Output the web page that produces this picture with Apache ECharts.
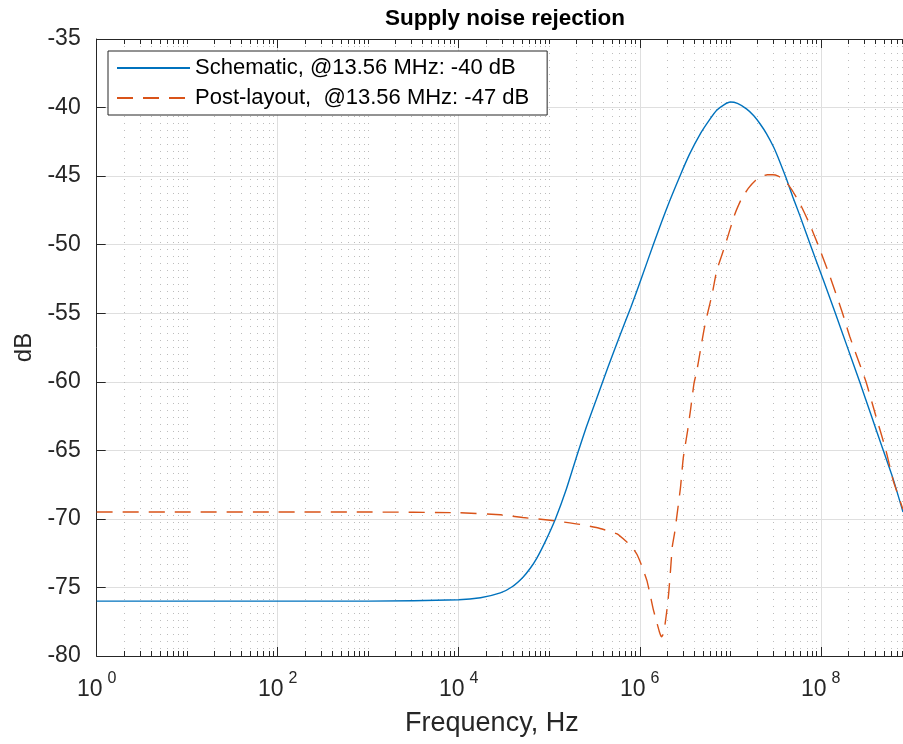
<!DOCTYPE html>
<html><head><meta charset="utf-8">
<script src="https://cdn.jsdelivr.net/npm/echarts@6/dist/echarts.min.js"></script>
<style>html,body{margin:0;padding:0;background:#fff}#c{width:903px;height:744px}</style>
</head><body><div id="c"></div>
<script>
const titleText = 'Supply noise rejection';
const xName = 'Frequency, Hz';
const yName = 'dB';
const seriesNames = ['Schematic, @13.56 MHz: -40 dB', 'Post-layout,  @13.56 MHz: -47 dB'];
const xMajorTicks = [1, 100, 1e4, 1e6, 1e8];
const xMin = 1, xMax = 8.1e8;
const yMin = -80, yMax = -35, yStep = 5;

const freqSchematic = [1, 10, 100, 1000, 1e4, 1.74e4, 2.88e4, 3.89e4, 5.13e4, 6.17e4, 7.24e4, 9.12e4, 1.17e5, 1.55e5, 2.04e5, 2.57e5, 3.31e5, 4.42e5, 5.89e5, 7.94e5, 1.05e6, 1.41e6, 2.0e6, 2.82e6, 3.55e6, 4.68e6, 5.89e6, 7.08e6, 8.51e6, 1.0e7, 1.2e7, 1.51e7, 1.82e7, 2.14e7, 2.51e7, 3.02e7, 3.55e7, 4.17e7, 4.9e7, 5.89e7, 7.76e7, 1.07e8, 1.45e8, 1.95e8, 2.69e8, 3.63e8, 4.9e8, 6.31e8, 8.1e8];
const dbSchematic = [-76.0, -76.0, -76.0, -76.0, -75.9, -75.75, -75.4, -74.95, -74.25, -73.6, -72.9, -71.6, -70.0, -67.8, -65.3, -63.3, -61.3, -59.0, -56.8, -54.6, -52.4, -50.0, -47.3, -44.9, -43.4, -41.9, -40.9, -40.2, -39.8, -39.6, -39.7, -40.1, -40.6, -41.2, -41.9, -42.9, -44.0, -45.2, -46.5, -47.9, -50.1, -52.6, -55.0, -57.4, -60.0, -62.5, -65.0, -67.1, -69.5];

const freqPostLayout = [1, 10, 100, 1000, 1e4, 2.88e4, 5.13e4, 1.02e5, 2.19e5, 3.63e5, 5.62e5, 7.24e5, 8.32e5, 9.33e5, 1.05e6, 1.2e6, 1.29e6, 1.41e6, 1.55e6, 1.66e6, 1.74e6, 1.82e6, 1.91e6, 2.0e6, 2.09e6, 2.19e6, 2.29e6, 2.43e6, 2.57e6, 2.82e6, 3.02e6, 3.39e6, 3.63e6, 3.98e6, 4.27e6, 4.68e6, 5.13e6, 5.62e6, 6.31e6, 7.08e6, 8.13e6, 8.91e6, 1.12e7, 1.32e7, 1.58e7, 1.91e7, 2.24e7, 2.57e7, 2.95e7, 3.39e7, 3.98e7, 4.79e7, 5.89e7, 7.41e7, 9.33e7, 1.26e8, 1.74e8, 2.09e8, 3.16e8, 3.98e8, 5.25e8, 6.31e8, 8.1e8];
const dbPostLayout = [-69.5, -69.5, -69.5, -69.5, -69.55, -69.7, -69.9, -70.1, -70.4, -70.7, -71.1, -71.7, -72.1, -72.6, -73.4, -74.5, -75.4, -76.6, -77.6, -78.3, -78.6, -78.4, -77.6, -76.6, -75.4, -73.7, -72.0, -71.0, -69.8, -67.7, -65.6, -63.5, -62.1, -60.1, -59.2, -57.7, -56.2, -55.0, -53.6, -51.9, -50.7, -49.9, -47.8, -46.7, -45.9, -45.3, -45.0, -44.9, -44.9, -45.0, -45.3, -46.0, -47.0, -48.4, -50.0, -52.3, -55.0, -56.7, -60.0, -62.3, -65.0, -67.2, -69.3];

// minor tick positions (2..9 x each decade, plus odd decades)
const xMinorTicks = [];
for (let d = 0; d <= 8; d++) {
  const p = Math.pow(10, d);
  if (d % 2 === 1) xMinorTicks.push(p);
  for (let k = 2; k <= 9; k++) { const v = k * p; if (v <= xMax) xMinorTicks.push(v); }
}

const FONT = '"Liberation Sans", Arial, Helvetica, sans-serif';
const AX = '#262626';
const GRIDC = '#dfdfdf';

const chart = echarts.init(document.getElementById('c'), null, {renderer: 'canvas'});
const xBase = {type: 'log', logBase: 10, min: xMin, max: xMax, gridIndex: 0, minorTick: {show: false}, minorSplitLine: {show: false}};

const option = {
  animation: false,
  backgroundColor: '#fff',
  textStyle: {fontFamily: FONT},
  title: {
    text: titleText, left: 500, textAlign: 'center', top: 2,
    textStyle: {fontFamily: FONT, fontWeight: 'bold', fontSize: 22.5, color: '#000'}
  },
  grid: {left: 96.7, right: 0, top: 39, bottom: 88, containLabel: false, outerBoundsMode: 'none'},
  legend: {
    orient: 'vertical', left: 108, top: 51,
    itemWidth: 73, itemHeight: 14, itemGap: 8,
    padding: [6, 18, 6, 8],
    borderColor: AX, borderWidth: 1, backgroundColor: '#fff',
    itemStyle: {opacity: 0},
    textStyle: {fontFamily: FONT, fontSize: 22, color: '#000', lineHeight: 22},
    data: seriesNames
  },
  xAxis: [
    Object.assign({}, xBase, {
      position: 'bottom',
      axisLine: {show: true, lineStyle: {color: AX, width: 1}},
      axisTick: {show: true, inside: true, length: 9, customValues: xMajorTicks, lineStyle: {color: AX}},
      axisLabel: {
        show: true, customValues: xMajorTicks, margin: 15,
        formatter: v => '{b|10}{s|' + Math.round(Math.log10(v)) + '}',
        rich: {
          b: {fontFamily: FONT, fontSize: 23, color: AX, padding: [7, 0, 0, 0], verticalAlign: 'bottom'},
          s: {fontFamily: FONT, fontSize: 16, color: AX, padding: [0, 0, 0, 5], verticalAlign: 'top'}
        }
      },
      splitLine: {show: true, lineStyle: {color: GRIDC, width: 1}},
      name: xName, nameLocation: 'middle', nameGap: 54,
      nameTextStyle: {fontFamily: FONT, fontSize: 27, color: AX, padding: [0, 16, 0, 0]}
    }),
    Object.assign({}, xBase, {
      position: 'bottom',
      axisLine: {show: false},
      axisTick: {show: true, inside: true, length: 5, customValues: xMinorTicks, lineStyle: {color: AX}},
      axisLabel: {show: false},
      splitLine: {show: true, lineStyle: {color: '#bcbcbc', width: 1, type: [1, 6]}}
    }),
    Object.assign({}, xBase, {
      position: 'top',
      axisLine: {show: true, lineStyle: {color: AX, width: 1}},
      axisTick: {show: true, inside: true, length: 9, customValues: xMajorTicks, lineStyle: {color: AX}},
      axisLabel: {show: false},
      splitLine: {show: false}
    }),
    Object.assign({}, xBase, {
      position: 'top',
      axisLine: {show: false},
      axisTick: {show: true, inside: true, length: 5, customValues: xMinorTicks, lineStyle: {color: AX}},
      axisLabel: {show: false},
      splitLine: {show: false}
    })
  ],
  yAxis: {
    type: 'value', min: yMin, max: yMax, interval: yStep,
    axisLine: {show: true, lineStyle: {color: AX, width: 1}},
    axisTick: {show: true, inside: true, length: 9, lineStyle: {color: AX}},
    axisLabel: {fontFamily: FONT, fontSize: 23, color: AX, margin: 16},
    splitLine: {show: true, lineStyle: {color: GRIDC, width: 1}},
    name: yName, nameLocation: 'middle', nameGap: 49,
    nameTextStyle: {fontFamily: FONT, fontSize: 24, color: AX}
  },
  series: [
    {
      name: seriesNames[0], type: 'line', xAxisIndex: 0, yAxisIndex: 0,
      data: freqSchematic.map((f, i) => [f, dbSchematic[i]]),
      symbol: 'none', smooth: 0.2, clip: true, z: 5,
      lineStyle: {color: '#0072BD', width: 1.4},
      itemStyle: {color: '#0072BD'}
    },
    {
      name: seriesNames[1], type: 'line', xAxisIndex: 0, yAxisIndex: 0,
      data: freqPostLayout.map((f, i) => [f, dbPostLayout[i]]),
      symbol: 'none', smooth: 0.15, clip: true, z: 6,
      lineStyle: {color: '#D95319', width: 1.4, type: [16, 10]},
      itemStyle: {color: '#D95319'}
    }
  ]
};
chart.setOption(option);
</script>
</body></html>
